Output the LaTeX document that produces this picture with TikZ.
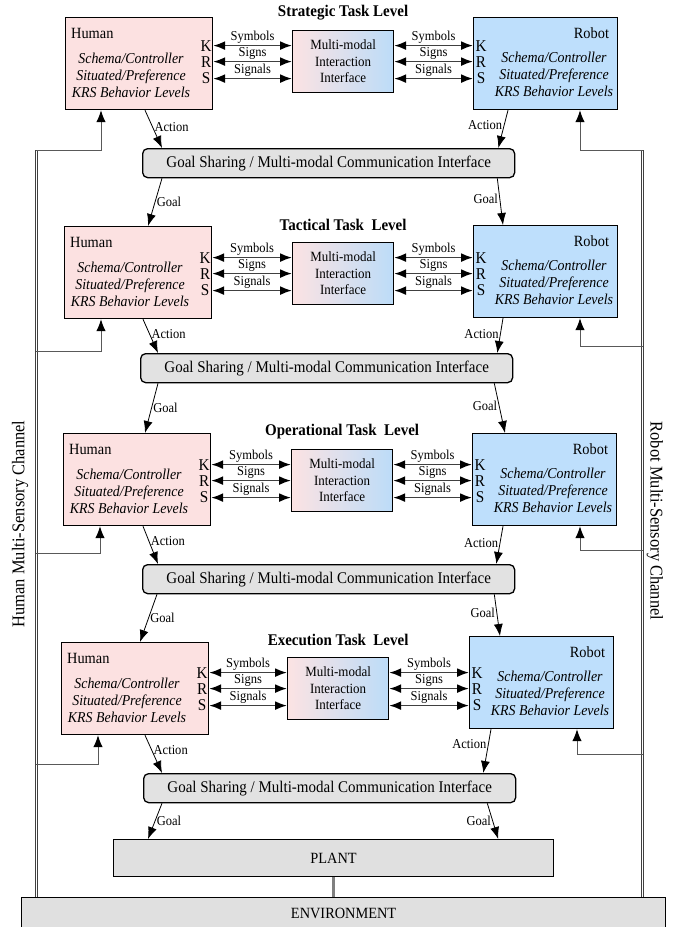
\documentclass[tikz,border=0pt]{standalone}
\usepackage{fontspec}
\setmainfont{Liberation Serif}[FakeStretch=0.92]
\usetikzlibrary{arrows.meta,calc}
\definecolor{hpink}{HTML}{FCE1E1}
\definecolor{rblue}{HTML}{BEDFFC}
\definecolor{mpink}{HTML}{FCE3E3}
\definecolor{mblue}{HTML}{BCDCF8}
\definecolor{gfill}{HTML}{E2E2E2}
\definecolor{pfill}{HTML}{E0E0E0}
\newcommand\fs[2]{\fontsize{#1}{#2}\selectfont}
\tikzset{
 hbox/.style={draw, line width=1.2pt, fill=hpink, minimum width=147pt, minimum height=92pt, anchor=north west, inner sep=0pt},
 rbox/.style={hbox, fill=rblue, minimum width=144pt},
 mbox/.style={draw, line width=1.2pt, left color=mpink, right color=mblue, minimum width=101pt, minimum height=62pt, anchor=north west, inner sep=0pt, align=center, font=\fs{14.1}{16.5}},
 gbox/.style={draw, line width=1.3pt, rounded corners=5pt, fill=gfill, minimum width=372pt, minimum height=29pt, anchor=north west, inner sep=0pt, font=\fs{16.3}{18}},
 pbox/.style={draw, line width=1.2pt, fill=pfill, anchor=north west, inner sep=0pt, font=\fs{15.6}{17}},
 ttl/.style={font=\fs{16.3}{18}\bfseries, inner sep=0pt},
 nm/.style={font=\fs{15.6}{17}, inner sep=0pt},
 itx/.style={font=\fs{15.1}{17}\itshape, align=center, inner sep=0pt},
 krsl/.style={font=\fs{16.5}{17}, inner sep=0pt},
 lbl/.style={font=\fs{13.6}{14}, inner sep=1.5pt},
 arr/.style={draw=black, line width=0.8pt, -{Latex[length=12pt,width=9pt]}},
 krs/.style={draw=black!75, line width=1.7pt, {Latex[length=12pt,width=9pt,color=black]}-{Latex[length=12pt,width=9pt,color=black]}},
 fb/.style={draw=black!65, line width=1pt, -{Latex[length=12pt,width=9.5pt,color=black]}},
 chan/.style={draw=black!75, line width=0.7pt, double=white, double distance=1.2pt},
 pe/.style={draw=black!50, line width=2.5pt},
 chl/.style={font=\fs{17.9}{19}},
}
\newcommand\TaskLevel[8]{%
 \node[hbox] (H#1) at (#2,#3) {};
 \node[mbox] (M#1) at (#4,#5) {Multi-modal\\Interaction\\Interface};
 \node[rbox] (R#1) at (#6,#7) {};
 \node[ttl] (T#1) at ($(M#1.north)+(0,-17)$) {#8};
 \node[nm,anchor=west] (HN#1) at ($(H#1.north west)+(6,16)$) {Human};
 \node[itx] (HI#1) at ($(H#1.north west)+(66,58)$) {Schema/Controller\\Situated/Preference\\KRS Behavior Levels};
 \node[nm,anchor=east] (RN#1) at ($(R#1.north east)+(-9,16)$) {Robot};
 \node[itx] (RI#1) at ($(R#1.north west)+(81,57)$) {Schema/Controller\\Situated/Preference\\KRS Behavior Levels};
 \foreach \dy/\l/\t in {-16/K/Symbols,0/R/Signs,17/S/Signals}{%
   \node[krsl] (HK#1\l) at ($(M#1.west -| H#1.east)+(-7,\dy)$) {\l};
   \node[krsl] (RK#1\l) at ($(M#1.east -| R#1.west)+(8,\dy)$) {\l};
   \draw[krs] ($(M#1.west -| H#1.east)+(0,\dy)$) -- node[lbl,above] (LH#1\l) {\t} ($(M#1.west)+(0,\dy)$);
   \draw[krs] ($(M#1.east)+(0,\dy)$) -- node[lbl,above] (LR#1\l) {\t} ($(M#1.east -| R#1.west)+(0,\dy)$);
 }%
}
\begin{document}
\begin{tikzpicture}[x=1pt,y=-1pt]
\useasboundingbox (0,0) rectangle (674,927);
% levels
\TaskLevel{a}{65}{17}{292}{30}{473}{17}{Strategic Task Level}
\TaskLevel{b}{64}{226}{292}{242}{473}{225}{Tactical Task\ \ Level}
\TaskLevel{c}{63}{433}{291}{449}{472}{433}{Operational Task\ \ Level}
\TaskLevel{d}{61}{642}{287}{657}{469}{636}{Execution Task\ \ Level}
% goal sharing
\node[gbox] (Ga) at (142,148) {Goal Sharing / Multi-modal Communication Interface};
\node[gbox] (Gb) at (140,353) {Goal Sharing / Multi-modal Communication Interface};
\node[gbox] (Gc) at (142,564) {Goal Sharing / Multi-modal Communication Interface};
\node[gbox] (Gd) at (143,773) {Goal Sharing / Multi-modal Communication Interface};
% plant, environment
\node[pbox, minimum width=440pt, minimum height=37pt] (P) at (113,839) {PLANT};
\node[pbox, minimum width=644pt, minimum height=32pt] (E) at (21,897) {ENVIRONMENT};
% channels
\coordinate (CLt) at (36.3,150);
\coordinate (CRt) at (642.5,150);
\draw[chan] (CLt) -- (CLt |- E.north);
\draw[chan] (CRt) -- (CRt |- E.north);
\node[chl,rotate=90] (CHL) at (20,524) {Human Multi-Sensory Channel};
\node[chl,rotate=-90] (CHR) at (655,521) {Robot Multi-Sensory Channel};
\draw[pe] (P.south) -- (P.south |- E.north);
% feedback
\coordinate (hfa) at (36.3,150);
\coordinate (hfb) at (36.3,351);
\coordinate (hfc) at (36.3,553);
\coordinate (hfd) at (36.3,764);
\coordinate (rfa) at (642.5,150);
\coordinate (rfb) at (642.5,346);
\coordinate (rfc) at (642.5,550);
\coordinate (rfd) at (642.5,754);
\draw[fb] (hfa) -| ($(Ha.south west)+(36,0)$);
\draw[fb] (hfb) -| ($(Hb.south west)+(37,0)$);
\draw[fb] (hfc) -| ($(Hc.south west)+(37,0)$);
\draw[fb] (hfd) -| ($(Hd.south west)+(37,0)$);
\draw[fb] (rfa) -| ($(Ra.south west)+(107,0)$);
\draw[fb] (rfb) -| ($(Rb.south west)+(107,0)$);
\draw[fb] (rfc) -| ($(Rc.south west)+(108,0)$);
\draw[fb] (rfd) -| ($(Rd.south west)+(108,0)$);
% action / goal
\draw[arr] ($(Ha.south west)+(80,0)$) -- node[lbl,right,pos=0.45] (A1l) {Action} ($(Ga.north west)+(20,0)$);
\draw[arr] ($(Ra.south west)+(35,0)$) -- node[lbl,left,pos=0.4] (A1r) {Action} ($(Ga.north east)+(-17,0)$);
\draw[arr] ($(Ga.south west)+(20,0)$) -- node[lbl,right,pos=0.5] (G1l) {Goal} ($(Hb.north west)+(84,0)$);
\draw[arr] ($(Ga.south east)+(-18,0)$) -- node[lbl,left,pos=0.45] (G1r) {Goal} ($(Rb.north west)+(30,0)$);
\draw[arr] ($(Hb.south west)+(79,0)$) -- node[lbl,right,pos=0.45] (A2l) {Action} ($(Gb.north west)+(18,0)$);
\draw[arr] ($(Rb.south west)+(30,0)$) -- node[lbl,left,pos=0.45] (A2r) {Action} ($(Gb.north east)+(-16,0)$);
\draw[arr] ($(Gb.south west)+(18,0)$) -- node[lbl,right,pos=0.5] (G2l) {Goal} ($(Hc.north west)+(82,0)$);
\draw[arr] ($(Gb.south east)+(-19,0)$) -- node[lbl,left,pos=0.45] (G2r) {Goal} ($(Rc.north west)+(33,0)$);
\draw[arr] ($(Hc.south west)+(80,0)$) -- node[lbl,right,pos=0.4] (A3l) {Action} ($(Gc.north west)+(16,0)$);
\draw[arr] ($(Rc.south west)+(31,0)$) -- node[lbl,left,pos=0.45] (A3r) {Action} ($(Gc.north east)+(-19,0)$);
\draw[arr] ($(Gc.south west)+(15,0)$) -- node[lbl,right,pos=0.5] (G3l) {Goal} ($(Hd.north west)+(79,0)$);
\draw[arr] ($(Gc.south east)+(-21,0)$) -- node[lbl,left,pos=0.45] (G3r) {Goal} ($(Rd.north west)+(31,0)$);
\draw[arr] ($(Hd.south west)+(84,0)$) -- node[lbl,right,pos=0.4] (A4l) {Action} ($(Gd.north west)+(19,0)$);
\draw[arr] ($(Rd.south west)+(22,0)$) -- node[lbl,left,pos=0.35] (A4r) {Action} ($(Gd.north east)+(-33,0)$);
\draw[arr] ($(Gd.south west)+(19,0)$) -- node[lbl,right,pos=0.5] (G4l) {Goal} ($(P.north west)+(35,0)$);
\draw[arr] ($(Gd.south east)+(-29,0)$) -- node[lbl,left,pos=0.5] (G4r) {Goal} ($(P.north east)+(-56,0)$);
\end{tikzpicture}
\end{document}
